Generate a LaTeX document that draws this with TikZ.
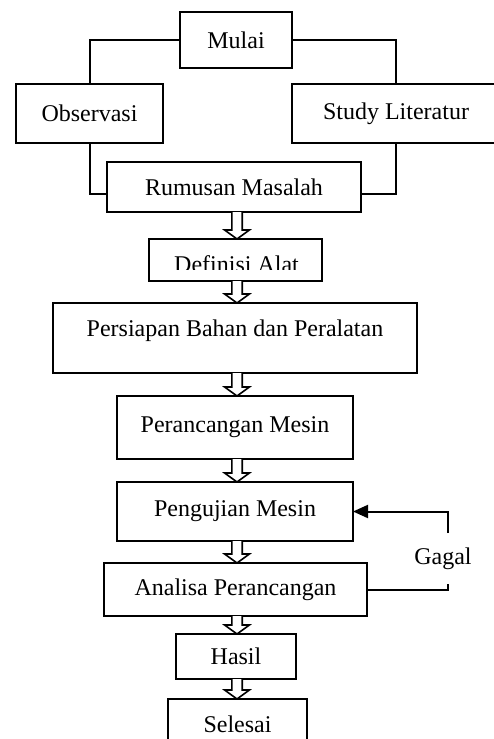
\documentclass[tikz,border=0pt]{standalone}
\usepackage{fontspec}
\setmainfont{Liberation Serif}
\usetikzlibrary{calc,arrows.meta}

% hollow block arrow from the bottom of #1 to the top of #2
\newcommand{\hollowarrow}[2]{%
  \draw[hollow] ($(#1.south -| axis)+(-5.2,0)$)
    -- ($(#2.north -| axis)+(-5.2,-9)$) -- ++(-7.2,0)
    -- (#2.north -| axis)
    -- ($(#2.north -| axis)+(12.4,-9)$) -- ++(-7.2,0)
    -- ($(#1.south -| axis)+(5.2,0)$);}

\begin{document}
\begin{tikzpicture}[x=0.5pt,y=-0.5pt,font=\fontsize{12}{14}\selectfont,
    box/.style={draw,line width=0.8pt,inner sep=0pt,outer sep=0pt},
    link/.style={line width=1pt},
    hollow/.style={draw,line width=0.8pt,fill=white,line join=miter}]
  \useasboundingbox (0,0) rectangle (493,739);
  \coordinate (axis) at (237,0);
  % start, the two inputs and the problem statement
  \node[box,minimum width=56pt,minimum height=28pt] (mulai) at (236,40) {Mulai};
  \node[box,minimum width=73.5pt,minimum height=29.5pt] (obs) at (89.5,113.5) {Observasi};
  \node[box,minimum width=104pt,minimum height=29.5pt] (lit) at (396,113.5) {Study Literatur};
  \node[box,minimum width=127pt,minimum height=25pt] (rum) at (234,187) {Rumusan Masalah};
  \draw[link] (mulai.west) -| (obs.north);
  \draw[link] (mulai.east) -| (lit.north);
  \draw[link] (obs.south) |- ([yshift=-3.5pt]rum.west);
  \draw[link] (lit.south) |- ([yshift=-3.5pt]rum.east);
  % definisi alat (text runs out of its box)
  \node[box,minimum width=86.5pt,minimum height=21pt] (def) at (235.5,260) {};
  \begin{scope}
    \clip (149,239) rectangle (322,269.5);
    \node[inner sep=0pt] (deftxt) at (236.5,264) {Definisi Alat};
  \end{scope}
  % main steps
  \node[box,minimum width=182pt,minimum height=35pt,text depth=10.2pt] (prep) at (235,338) {Persiapan Bahan dan Peralatan};
  \node[box,minimum width=118pt,minimum height=31.5pt] (peranc) at (235,427.5) {Perancangan Mesin};
  \node[box,minimum width=118pt,minimum height=29.5pt] (peng) at (235,511.5) {Pengujian Mesin};
  \node[box,minimum width=131.5pt,minimum height=26.5pt] (ana) at (235.5,589.5) {Analisa Perancangan};
  \node[box,minimum width=60pt,minimum height=22.5pt] (hasil) at (236,656.5) {Hasil};
  \node[box,minimum width=69.5pt,minimum height=25pt] (selesai) at (237.5,724) {Selesai};
  \foreach \a/\b in {rum/def,def/prep,prep/peranc,peranc/peng,peng/ana,ana/hasil,hasil/selesai}
    \hollowarrow{\a}{\b};
  % failed test goes back
  \node[inner xsep=0pt,inner ysep=7pt] (gagal) at (443,558.5) {Gagal};
  \draw[link] (ana.east) -| ([xshift=2.5pt]gagal.south);
  \draw[link,-{Triangle[length=7.5pt,width=6.5pt]}] ([xshift=2.5pt]gagal.north) |- (peng.east);
\end{tikzpicture}
\end{document}
